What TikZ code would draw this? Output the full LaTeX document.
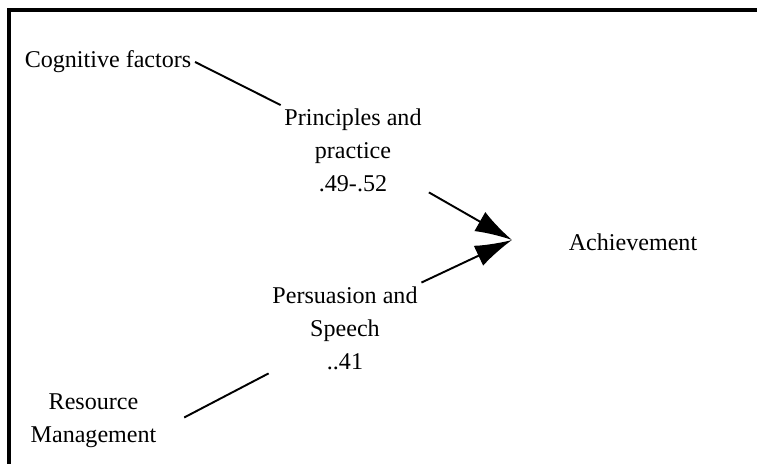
\documentclass[tikz,border=0pt]{standalone}
\usepackage{fontspec}
\setmainfont{Liberation Serif}
\usetikzlibrary{arrows.meta}

\begin{document}
\begin{tikzpicture}[
    lbl/.style={align=center, inner sep=2pt, font=\fontsize{13.7}{18.8}\selectfont},
    link/.style={line width=1.1pt},
    bigarrow/.style={line width=1.1pt, -{Latex[length=7.4mm, width=4.4mm]}}]
            \useasboundingbox (0,0) rectangle (15.14,9.28);
            \draw[line width=1.9pt] (0.18,0) -- (0.18,9.08) -- (15.14,9.08);
            \node[lbl] (cog) at (2.16,8.04) {Cognitive factors};
            \node[lbl] (prin) at (7.06,6.27) {Principles and\\practice\\.49-.52};
            \node[lbl] (pers) at (6.90,2.72) {Persuasion and\\Speech\\..41};
            \node[lbl] (res) at (1.87,0.87) {Resource\\Management};
            \node[lbl] (ach) at (12.66,4.44) {Achievement};
            \coordinate (join) at (10.24,4.48);
            \draw[link] (cog.east) -- (prin.north west);
            \draw[bigarrow] ([xshift=2pt,yshift=2pt]prin.south east) -- (join);
            \draw[bigarrow] (pers.north east) -- (join);
            \draw[link] (pers.south west) -- ([xshift=0.48cm,yshift=0.06cm]res.east);
\end{tikzpicture}
\end{document}
